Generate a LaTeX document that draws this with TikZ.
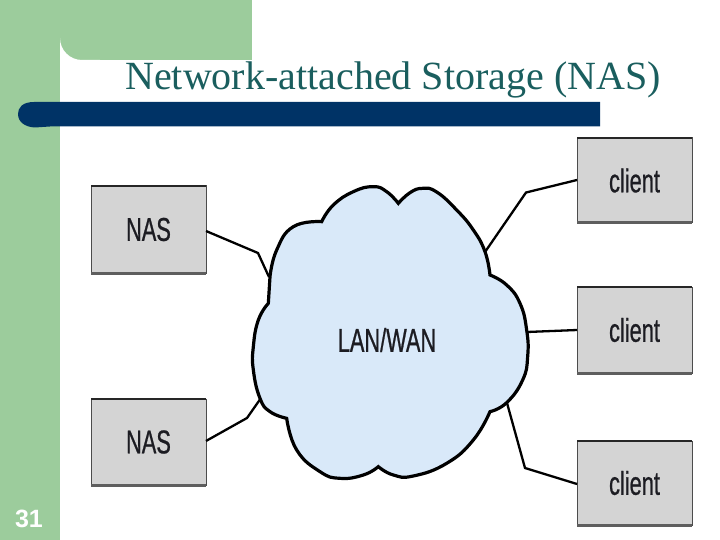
\documentclass[tikz,border=0pt]{standalone}
\usepackage{fontspec}
\setmainfont{Liberation Serif}
\newfontfamily\narrowsans[FakeStretch=0.66,FakeBold=0.7]{Liberation Sans}
\newfontfamily\plainsans{Liberation Sans}
\definecolor{slidegreen}{HTML}{9CCC9C}
\definecolor{barblue}{HTML}{003366}
\definecolor{titleteal}{HTML}{1A5E5E}
\definecolor{cloudblue}{HTML}{D9E9F9}
\definecolor{boxgray}{HTML}{D4D4D4}
\definecolor{shadegray}{HTML}{5E5E5E}
\definecolor{labeldark}{HTML}{1C1C22}
\tikzset{
  boxnode/.style={minimum width=115pt,inner sep=0pt,outer sep=0pt,fill=boxgray,draw=black!70,line width=1pt,text=labeldark,font=\narrowsans\fontsize{33}{33}\selectfont},
  topedge/.style={line width=1.6pt,black!85},
  botedge/.style={line width=3pt,shadegray},
  link/.style={line width=2.3pt,black,line join=miter},
  cloudline/.style={line width=3.2pt,black,fill=cloudblue,line join=miter},
}
\begin{document}
\begin{tikzpicture}[x=1pt,y=-1pt]
\useasboundingbox (0,0) rectangle (720,540);
\fill[white] (0,0) rectangle (720,540);
\fill[slidegreen] (0,0) rectangle (252,60);
\fill[slidegreen] (0,0) rectangle (60,540);
\fill[slidegreen] (60,60) rectangle (82,82);
\fill[white] (82,60) arc[start angle=90,end angle=180,radius=22] -- (60,102) -- (100,102) -- (100,60) -- cycle;
\fill[barblue] (600,102) -- (34,102) .. controls (22,102) and (18,108) .. (18,114) .. controls (18,122) and (25,127) .. (35,127.5) -- (50,126.5) -- (600,126.5) -- cycle;
\node[anchor=base,text=titleteal,font=\fontsize{40}{40}\selectfont,inner sep=0pt] (title) at (393,90) {Network-attached Storage (NAS)};
\node[anchor=base,text=white,font=\plainsans\fontsize{25}{25}\selectfont\bfseries,inner sep=0pt] (pagenum) at (29,527) {31};
\node[boxnode,minimum height=85pt,anchor=north west] (clientA) at (577,138) {client};
\node[boxnode,minimum height=86pt,anchor=north west] (clientB) at (577,287) {client};
\node[boxnode,minimum height=84pt,anchor=north west] (clientC) at (577,441) {client};
\node[boxnode,minimum height=87pt,anchor=north west] (nasA) at (91,186) {NAS};
\node[boxnode,minimum height=86pt,anchor=north west] (nasB) at (91,399) {NAS};
\foreach \b in {clientA,clientB,clientC,nasA,nasB}{
  \draw[topedge] (\b.north west) -- (\b.north east);
  \draw[botedge] (\b.south west) -- (\b.south east);
}
\coordinate (portA) at (485,252);
\coordinate (portB) at (527,332);
\coordinate (portC) at (507,403);
\coordinate (portD) at (269,277);
\coordinate (portE) at (261,398);
\draw[link] (clientA.west |- 0,180) -- (526,192.5) -- (portA);
\draw[link] (clientB.west |- 0,330) -- (portB);
\draw[link] (clientC.west |- 0,484) -- (525,468) -- (portC);
\draw[link] (nasA.east |- 0,231) -- (258,253) -- (portD);
\draw[link] (nasB.east |- 0,441) -- (247,418) -- (portE);
\begin{scope}[shift={(240,170)},scale=0.33333]
\draw[cloudline]
 plot[smooth,tension=0.8] coordinates {(475,100) (510,68) (548,55) (590,66) (650,120) (700,180) (735,245) (750,315)}
 -- plot[smooth,tension=0.8] coordinates {(750,315) (800,345) (840,400) (860,480) (863,560) (848,630) (800,698) (750,725)}
 -- plot[smooth,tension=0.8] coordinates {(750,725) (700,810) (620,880) (520,918) (460,915) (415,890)}
 -- plot[smooth,tension=0.8] coordinates {(415,890) (370,915) (300,925) (240,905) (170,840) (140,745)}
 -- plot[smooth,tension=0.8] coordinates {(140,745) (90,725) (60,685) (40,600) (40,530) (55,450) (85,400)}
 -- (90,320)
 -- plot[smooth,tension=0.8] coordinates {(90,320) (110,240) (160,170) (245,155)}
 -- plot[smooth,tension=0.8] coordinates {(245,155) (280,105) (340,65) (400,50) (440,65) (475,100)}
 -- cycle;
\end{scope}
\node[text=labeldark,font=\narrowsans\fontsize{33}{33}\selectfont,inner sep=0pt] (cloud) at (387,340) {LAN/WAN};
\end{tikzpicture}
\end{document}
